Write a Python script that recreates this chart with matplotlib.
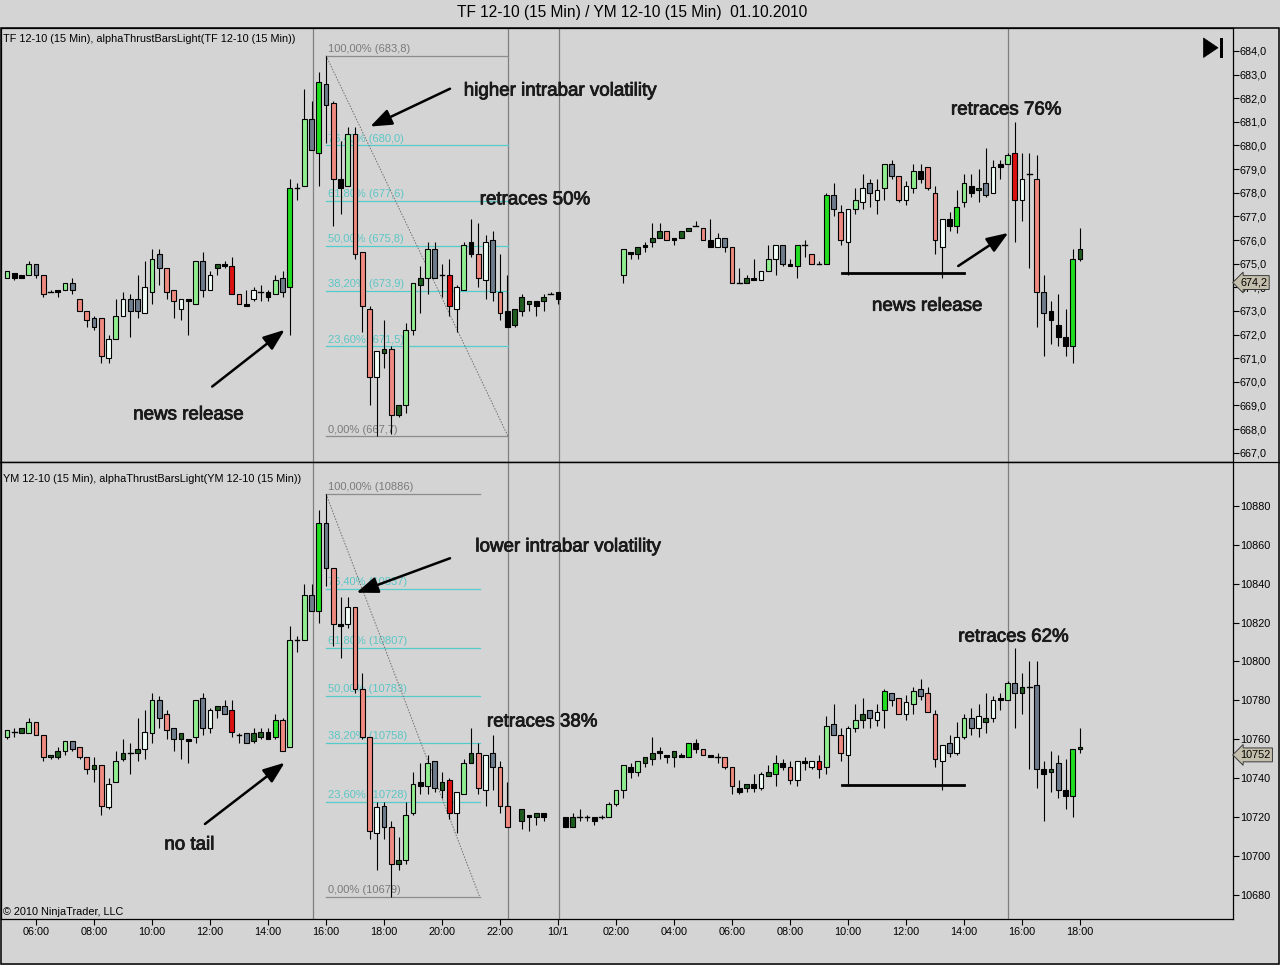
"""Recreate the NinjaTrader TF / YM 15-min chart of 01.10.2010 (two stacked candle panels)."""
import matplotlib

matplotlib.use("Agg")
import matplotlib.pyplot as plt
import matplotlib.patheffects as pe
from matplotlib.patches import Rectangle, Polygon
from matplotlib.lines import Line2D

plt.rcParams["font.family"] = ["Liberation Sans", "DejaVu Sans"]

# ---- data -------------------------------------------------------------------
# bar slot = number of 15-min bars after 06:00 on day 1 (gaps = no bar printed)
top_slots = list(range(-4, 73)) + list(range(81, 145))
bot_slots = list(range(-4, 66)) + [67, 68, 69, 70] + list(range(73, 145))

# TF 12-10
top_open = [
    674.4, 674.6, 674.5, 674.5, 675.0, 674.5, 673.8, 673.9, 673.9, 674.2,
    673.5, 673.0, 672.7, 672.7, 671.0, 671.8, 672.8, 673.5, 673.5, 672.9,
    673.8, 675.4, 674.8, 673.9, 673.1, 673.5, 673.3, 675.1, 673.9, 674.8,
    675.0, 674.9, 673.7, 673.3, 673.5, 673.8, 673.8, 673.7, 674.4, 674.0,
    678.2, 678.3, 681.1, 679.7, 682.6, 681.8, 678.6, 678.3, 680.5, 675.5,
    673.1, 670.2, 671.2, 671.4, 668.6, 669.0, 672.2, 674.1, 674.4, 675.6,
    674.5, 674.5, 673.1, 673.9, 675.9, 675.4, 674.3, 676.0, 673.8, 673.0,
    672.4, 673.0, 673.3, 673.4, 673.4, 673.7, 673.8,
    674.5, 675.5, 675.4, 675.8, 675.9, 676.1, 676.4, 676.1, 676.1, 676.4,
    676.6, 676.5, 676.0, 675.7, 676.1, 675.7, 674.2, 674.2, 674.4, 674.3,
    674.7, 675.2, 675.8, 675.0, 674.9, 675.8, 675.4, 675.0, 675.0, 677.9,
    677.2, 675.9, 677.3, 677.6, 678.4, 677.7, 678.2, 679.2, 678.7, 677.7,
    678.2,
    678.9, 679.1, 678.0, 675.7, 676.9, 676.6, 677.6, 678.3, 678.1, 678.4,
    678.0, 679.2, 679.2, 679.7, 677.7, 678.8, 678.6, 673.8, 673.0, 672.4,
    671.9, 671.5, 675.2,
]
top_high = [
    674.7, 674.6, 674.5, 675.1, 675.0, 674.5, 673.9, 673.9, 674.2, 674.4,
    673.5, 673.0, 672.8, 672.7, 672.0, 673.5, 673.8, 673.7, 674.5, 675.1,
    675.6, 675.6, 674.8, 673.9, 673.5, 673.5, 675.1, 675.5, 674.7, 675.0,
    675.1, 675.3, 673.7, 673.9, 674.0, 674.1, 673.9, 674.5, 674.7, 678.6,
    678.4, 682.4, 681.9, 683.1, 683.8, 681.9, 680.2, 680.8, 680.8, 675.5,
    673.2, 671.3, 672.6, 671.5, 669.0, 672.5, 674.2, 674.9, 675.9, 675.9,
    675.0, 675.2, 674.1, 675.9, 676.9, 676.7, 676.2, 676.4, 675.4, 674.5,
    673.1, 673.7, 673.4, 673.4, 673.7, 673.8, 673.8,
    675.6, 675.5, 675.7, 675.9, 676.7, 676.7, 676.4, 676.1, 676.4, 676.5,
    676.8, 676.5, 676.9, 676.3, 676.1, 675.7, 674.8, 674.5, 675.2, 674.7,
    675.8, 675.8, 675.8, 675.2, 675.8, 676.0, 675.4, 675.1, 678.0, 678.4,
    677.5, 677.3, 678.2, 678.8, 678.6, 678.6, 679.2, 679.4, 678.7, 678.5,
    679.2,
    679.2, 679.1, 678.3, 676.9, 677.2, 678.1, 678.8, 678.8, 679.0, 679.9,
    679.4, 679.4, 679.7, 681.0, 679.7, 679.7, 679.6, 674.5, 673.4, 673.7,
    673.1, 675.6, 676.5,
]
top_low = [
    674.4, 674.3, 674.4, 674.5, 674.4, 673.6, 673.8, 673.6, 673.9, 673.7,
    673.0, 672.3, 672.2, 670.8, 670.8, 671.8, 672.8, 671.9, 672.7, 672.9,
    673.3, 674.1, 673.5, 672.7, 672.6, 672.0, 673.3, 673.6, 673.9, 674.5,
    674.8, 673.7, 673.3, 673.2, 673.4, 673.4, 673.4, 673.7, 673.6, 672.0,
    677.7, 678.3, 679.8, 678.3, 680.1, 676.6, 677.1, 678.3, 675.2, 672.1,
    669.0, 667.7, 670.6, 667.8, 668.5, 668.7, 672.0, 672.9, 673.7, 674.4,
    673.6, 672.8, 672.1, 673.9, 675.3, 674.0, 673.5, 673.4, 672.6, 672.3,
    672.3, 672.8, 673.0, 672.8, 673.0, 673.7, 673.3,
    674.2, 675.2, 675.2, 675.5, 675.7, 676.1, 676.0, 675.8, 676.1, 676.4,
    676.6, 676.0, 675.7, 675.7, 675.5, 674.2, 674.2, 674.2, 674.3, 674.3,
    674.7, 674.5, 674.9, 674.9, 674.4, 675.3, 675.0, 675.0, 675.0, 677.0,
    675.8, 674.5, 677.1, 677.3, 677.4, 677.1, 677.7, 678.6, 677.6, 677.5,
    678.0,
    678.4, 678.1, 675.4, 674.4, 676.4, 676.3, 677.4, 677.8, 677.6, 677.8,
    678.0, 678.6, 679.2, 675.9, 676.8, 674.8, 672.3, 671.1, 671.6, 671.5,
    671.1, 670.8, 675.1,
]
top_close = [
    674.7, 674.4, 674.4, 675.0, 674.5, 673.7, 673.8, 673.8, 674.2, 673.9,
    673.0, 672.6, 672.3, 671.1, 671.8, 672.8, 673.5, 673.0, 673.0, 674.0,
    675.2, 674.8, 673.8, 673.4, 673.5, 673.4, 675.1, 673.9, 674.5, 675.0,
    674.9, 673.7, 673.3, 673.2, 673.9, 673.8, 673.6, 674.3, 673.8, 678.2,
    678.2, 681.1, 679.8, 682.7, 681.7, 678.6, 678.2, 680.5, 675.4, 673.2,
    670.2, 671.3, 671.4, 668.6, 669.0, 672.2, 674.2, 674.4, 675.6, 674.4,
    674.5, 673.2, 674.0, 675.8, 675.4, 674.4, 675.9, 673.8, 672.9, 672.3,
    673.1, 673.6, 673.4, 673.2, 673.6, 673.7, 673.5,
    675.6, 675.4, 675.7, 675.7, 676.1, 676.4, 676.0, 676.0, 676.4, 676.5,
    676.6, 676.0, 675.7, 676.1, 675.7, 674.2, 674.2, 674.4, 674.3, 674.7,
    675.2, 675.8, 675.0, 674.9, 675.8, 675.8, 675.0, 675.0, 677.9, 677.3,
    676.0, 677.3, 677.7, 678.2, 678.0, 678.1, 679.2, 678.7, 677.7, 678.3,
    678.9,
    678.6, 678.2, 676.0, 676.9, 676.6, 677.4, 678.4, 678.0, 678.2, 677.9,
    679.1, 679.1, 679.6, 677.7, 678.6, 678.8, 673.8, 672.9, 672.6, 671.9,
    671.5, 675.2, 675.6,
]
# alphaThrust colour code per bar: L light green, G green, D dark green, W white,
# S salmon, R red, Y slate grey, K black, X doji
top_codes = (
    "LKKLYSXKLY" "SSYSWLWYYW" "LYSSWKLYWD" "KRSKWXKLYG" "XLYGYSKLSS"
    "SWDSDLLDLY" "XRWLKSWYSK" "DDDKDXK"
    "LKDKDDSKDD" "XSKWYSXDKW" "LWYKGXSXGY" "SWLWYWLYSW" "L"
    "KSSWKGLKDY" "WKLRWXSYKK" "KGD"
)

# YM 12-10
bot_open = [
    10761, 10764, 10763, 10763, 10769, 10762, 10751, 10751, 10754, 10759,
    10756, 10751, 10745, 10747, 10725, 10738, 10750, 10753, 10753, 10755,
    10763, 10780, 10773, 10766, 10760, 10760, 10761, 10781, 10766, 10775,
    10777, 10775, 10762, 10763, 10759, 10761, 10764, 10761, 10770, 10756,
    10811, 10811, 10834, 10826, 10871, 10848, 10819, 10819, 10828, 10786,
    10761, 10712, 10726, 10715, 10696, 10698, 10722, 10738, 10736, 10749,
    10734, 10739, 10722, 10732, 10748, 10753, 10734, 10753, 10746, 10726,
    10718, 10721, 10720, 10722, 10720, 10715, 10720, 10720, 10720, 10720,
    10720, 10727, 10734,
    10746, 10743, 10748, 10750, 10754, 10752, 10751, 10752, 10751, 10758,
    10755, 10752, 10751, 10751, 10746, 10735, 10735, 10737, 10735, 10741,
    10742, 10748, 10746, 10739, 10749, 10746, 10749, 10746, 10768, 10762,
    10752, 10766, 10770, 10775, 10770, 10775, 10784, 10781, 10773, 10778,
    10786, 10784, 10773, 10749, 10758, 10753, 10761, 10771, 10766, 10769,
    10771, 10781, 10780, 10789, 10784, 10787, 10788, 10745, 10743, 10748,
    10734, 10731, 10755,
]
bot_high = [
    10765, 10766, 10766, 10771, 10769, 10762, 10752, 10756, 10759, 10759,
    10756, 10751, 10751, 10747, 10740, 10754, 10760, 10758, 10771, 10775,
    10784, 10782, 10775, 10766, 10763, 10760, 10780, 10784, 10776, 10777,
    10780, 10780, 10763, 10763, 10766, 10766, 10766, 10773, 10771, 10818,
    10813, 10840, 10840, 10878, 10886, 10848, 10833, 10833, 10828, 10794,
    10761, 10728, 10728, 10718, 10710, 10728, 10743, 10748, 10752, 10749,
    10743, 10740, 10733, 10750, 10766, 10758, 10752, 10762, 10749, 10738,
    10724, 10721, 10722, 10722, 10720, 10722, 10724, 10721, 10720, 10721,
    10728, 10734, 10747,
    10748, 10749, 10751, 10761, 10756, 10752, 10754, 10753, 10758, 10760,
    10755, 10752, 10753, 10751, 10746, 10739, 10737, 10742, 10743, 10747,
    10752, 10750, 10749, 10749, 10751, 10749, 10752, 10772, 10778, 10766,
    10767, 10778, 10781, 10775, 10778, 10786, 10784, 10781, 10783, 10787,
    10791, 10787, 10775, 10757, 10762, 10769, 10773, 10776, 10778, 10784,
    10782, 10784, 10790, 10807, 10794, 10800, 10800, 10749, 10754, 10752,
    10750, 10755, 10766,
]
bot_low = [
    10760, 10761, 10763, 10763, 10762, 10749, 10750, 10750, 10752, 10754,
    10750, 10742, 10738, 10721, 10724, 10738, 10749, 10742, 10749, 10750,
    10758, 10766, 10760, 10754, 10750, 10748, 10758, 10762, 10763, 10771,
    10773, 10761, 10758, 10758, 10758, 10760, 10760, 10760, 10754, 10756,
    10805, 10811, 10826, 10820, 10839, 10808, 10802, 10817, 10784, 10760,
    10709, 10693, 10709, 10679, 10693, 10696, 10721, 10732, 10732, 10733,
    10730, 10719, 10712, 10732, 10748, 10732, 10726, 10734, 10722, 10715,
    10714, 10713, 10716, 10718, 10715, 10715, 10718, 10718, 10716, 10719,
    10720, 10726, 10730,
    10740, 10741, 10746, 10747, 10750, 10748, 10746, 10751, 10751, 10753,
    10752, 10751, 10748, 10745, 10732, 10732, 10733, 10733, 10734, 10741,
    10736, 10744, 10737, 10736, 10744, 10745, 10740, 10742, 10762, 10749,
    10737, 10764, 10766, 10766, 10767, 10766, 10777, 10773, 10770, 10773,
    10780, 10774, 10746, 10734, 10751, 10752, 10760, 10762, 10761, 10763,
    10769, 10775, 10780, 10766, 10773, 10745, 10735, 10718, 10733, 10730,
    10724, 10720, 10753,
]
bot_close = [
    10765, 10764, 10766, 10769, 10762, 10751, 10752, 10754, 10759, 10755,
    10751, 10745, 10747, 10726, 10737, 10749, 10753, 10753, 10755, 10764,
    10780, 10771, 10765, 10760, 10763, 10759, 10780, 10766, 10775, 10777,
    10773, 10764, 10762, 10758, 10763, 10764, 10760, 10770, 10754, 10811,
    10811, 10834, 10826, 10871, 10848, 10819, 10818, 10828, 10786, 10761,
    10713, 10725, 10715, 10696, 10698, 10721, 10737, 10736, 10748, 10735,
    10738, 10722, 10733, 10748, 10753, 10735, 10752, 10746, 10726, 10715,
    10724, 10720, 10722, 10720, 10715, 10720, 10720, 10720, 10718, 10720,
    10727, 10734, 10747,
    10743, 10749, 10751, 10753, 10753, 10751, 10754, 10751, 10758, 10755,
    10752, 10751, 10751, 10746, 10736, 10733, 10737, 10735, 10742, 10743,
    10748, 10746, 10739, 10749, 10748, 10749, 10745, 10767, 10762, 10753,
    10766, 10770, 10773, 10771, 10774, 10785, 10780, 10773, 10779, 10785,
    10782, 10774, 10750, 10757, 10753, 10761, 10771, 10766, 10772, 10771,
    10780, 10780, 10789, 10784, 10787, 10787, 10745, 10742, 10745, 10734,
    10731, 10755, 10756,
]
bot_codes = (
    "LXDLSSDDLY" "SSDSWLDXDW" "LYSYDKLYWD" "YRXYDDKGSL" "XLYGYSKWSS"
    "SWYSDLLKLY" "DRWLDSWYSS" "DKDKKDXXKX" "LLL"
    "KLDDKKDKGK" "SKXSSKDKWD" "GKSWKWRLYS" "WLDYWGYSWL" "YSSWYWLYWD"
    "WKLYDXYKDY" "KGD"
)

# Fibonacci retracements drawn on the chart
fib_levels = [1.0, 0.764, 0.618, 0.5, 0.382, 0.236, 0.0]
fib_top_labels = ["100,00% (683,8)", "76,40% (680,0)", "61,80% (677,6)", "50,00% (675,8)",
                  "38,20% (673,9)", "23,60% (671,5)", "0,00% (667,7)"]
fib_bot_labels = ["100,00% (10886)", "76,40% (10837)", "61,80% (10807)", "50,00% (10783)",
                  "38,20% (10758)", "23,60% (10728)", "0,00% (10679)"]
fib_top_hi, fib_top_lo = 683.8, 667.7
fib_bot_hi, fib_bot_lo = 10886, 10679

x_tick_slots = list(range(0, 145, 8))
x_tick_labels = ["06:00", "08:00", "10:00", "12:00", "14:00", "16:00", "18:00", "20:00",
                 "22:00", "10/1", "02:00", "04:00", "06:00", "08:00", "10:00", "12:00",
                 "14:00", "16:00", "18:00"]
top_y_ticks = [667.0 + k for k in range(18)]
bot_y_ticks = [10680 + 20 * k for k in range(11)]

top_last, bot_last = 674.2, 10752
title = "TF 12-10 (15 Min) / YM 12-10 (15 Min)  01.10.2010"

# ---- style ------------------------------------------------------------------
BG = "#D4D4D4"
CANDLE_COLORS = {"L": "#90EE90", "G": "#22DD22", "D": "#1F5C1F", "W": "#F2FFF8",
                 "S": "#EE8A80", "R": "#DD1111", "Y": "#6F7C8C", "K": "#000000"}
BODY = 0.68
W, H = 1280, 965


def px_box(x0, y0, x1, y1):
    return [x0 / W, 1 - y1 / H, (x1 - x0) / W, (y1 - y0) / H]


def draw_candles(ax, slots, o, h, l, c, codes):
    ax.vlines(slots, l, h, color="black", lw=0.8, zorder=3)
    for x, op, cl, k in zip(slots, o, c, codes):
        if k == "X":
            ax.plot([x - BODY / 2, x + BODY / 2], [cl, cl], color="black", lw=1.0, zorder=4)
        else:
            ax.add_patch(Rectangle((x - BODY / 2, min(op, cl)), BODY, abs(cl - op),
                                   facecolor=CANDLE_COLORS[k], edgecolor="black",
                                   lw=0.8, zorder=4))


def draw_fib(ax, x0, x1, lo, hi, labels):
    for lvl, lab in zip(fib_levels, labels):
        y = lo + lvl * (hi - lo)
        edge = lvl in (0.0, 1.0)
        col = "#8C8C8C" if edge else "#55CCCC"
        ax.plot([x0, x1], [y, y], color=col, lw=0.9, zorder=1)
        ax.annotate(lab, (x0, y), xytext=(1.5, 1.2), textcoords="offset points",
                    fontsize=8, color="#7A7A7A" if edge else "#5CC6C6",
                    ha="left", va="bottom", zorder=1)
    ax.plot([x0, x1], [hi, lo], color="#6E6E6E", lw=0.7, ls=(0, (1.5, 1.5)), zorder=1)


def note(ax, x, y, s):
    ax.text(x, y, s, fontsize=13.5, color="#1A1A1A", ha="left", va="center", zorder=6,
            path_effects=[pe.withStroke(linewidth=0.6, foreground="#1A1A1A")])


def arrow(ax, tail, head):
    ax.annotate("", xy=head, xytext=tail, zorder=6,
                arrowprops=dict(arrowstyle="-|>,head_length=1.0,head_width=0.38",
                                mutation_scale=13, lw=1.8, color="black",
                                shrinkA=0, shrinkB=0))


def price_tag(ax, y, s):
    ax.annotate(s, xy=(1.0, y), xycoords=ax.get_yaxis_transform(), xytext=(5, 0),
                textcoords="offset points", ha="left", va="center", fontsize=7.8,
                bbox=dict(boxstyle="larrow,pad=0.18", fc="#C4BFAC", ec="#3A3A3A", lw=0.7),
                zorder=7, annotation_clip=False)


fig = plt.figure(figsize=(12.8, 9.65), dpi=100, facecolor=BG)
ax_top = fig.add_axes(px_box(1, 27.5, 1233.3, 461.5))
ax_bot = fig.add_axes(px_box(1, 461.5, 1233.3, 919))

for ax in (ax_top, ax_bot):
    ax.set_facecolor(BG)
    ax.set_xlim(-4.83, 165.14)
    for sp in ax.spines.values():
        sp.set_color("black")
        sp.set_linewidth(0.9)
    ax.yaxis.tick_right()
    ax.tick_params(axis="y", direction="out", length=4, width=0.8, labelsize=7.8,
                   pad=0.8, colors="black")
    for xv in [38.2, 65.1, 72.1, 134.1]:
        ax.axvline(xv, color="#7F7F7F", lw=0.9, zorder=1)

# top panel
ax_top.set_ylim(666.63, 684.99)
ax_top.set_yticks(top_y_ticks, [f"{v:.1f}".replace(".", ",") for v in top_y_ticks])
ax_top.set_xticks([])
draw_candles(ax_top, top_slots, top_open, top_high, top_low, top_close, top_codes)
draw_fib(ax_top, 40.0, 65.1, fib_top_lo, fib_top_hi, fib_top_labels)
ax_top.plot([111.2, 128.0], [674.6, 674.6], color="black", lw=2, zorder=5)
note(ax_top, 59.0, 682.3, "higher intrabar volatility")
note(ax_top, 61.2, 677.7, "retraces 50%")
note(ax_top, 13.4, 668.6, "news release")
note(ax_top, 126.2, 681.5, "retraces 76%")
note(ax_top, 115.3, 673.2, "news release")
arrow(ax_top, (57.1, 682.4), (46.1, 680.8))
arrow(ax_top, (24.3, 669.8), (34.3, 672.2))
arrow(ax_top, (127.2, 674.9), (134.1, 676.3))
price_tag(ax_top, top_last, "674,2")

# bottom panel
ax_bot.set_ylim(10667.7, 10902.7)
ax_bot.set_yticks(bot_y_ticks, [str(v) for v in bot_y_ticks])
ax_bot.set_xticks(x_tick_slots, x_tick_labels)
ax_bot.tick_params(axis="x", direction="out", length=4.5, width=0.8, labelsize=7.8, pad=1.5)
draw_candles(ax_bot, bot_slots, bot_open, bot_high, bot_low, bot_close, bot_codes)
draw_fib(ax_bot, 40.0, 61.2, fib_bot_lo, fib_bot_hi, fib_bot_labels)
ax_bot.plot([111.2, 128.0], [10736.5, 10736.5], color="black", lw=2, zorder=5)
note(ax_bot, 60.6, 10858.8, "lower intrabar volatility")
note(ax_bot, 62.2, 10768.9, "retraces 38%")
note(ax_bot, 17.7, 10705.7, "no tail")
note(ax_bot, 127.2, 10812.5, "retraces 62%")
arrow(ax_bot, (57.1, 10853.0), (44.2, 10835.3))
arrow(ax_bot, (23.3, 10716.5), (34.3, 10748.0))
price_tag(ax_bot, bot_last, "10752")

# texts and frame
fig.text(632 / W, 1 - 13 / H, title, ha="center", va="center", fontsize=11.2)
fig.text(3 / W, 1 - 38.5 / H, "TF 12-10 (15 Min), alphaThrustBarsLight(TF 12-10 (15 Min))",
         ha="left", va="center", fontsize=7.8)
fig.text(3 / W, 1 - 478.5 / H, "YM 12-10 (15 Min), alphaThrustBarsLight(YM 12-10 (15 Min))",
         ha="left", va="center", fontsize=7.8)
fig.text(3 / W, 1 - 912 / H, "\u00a9 2010 NinjaTrader, LLC", ha="left", va="center", fontsize=7.8)

fig.add_artist(Rectangle((0.5 / W, 1 - 963.5 / H), 1278.5 / W, 936 / H,
                         transform=fig.transFigure, fill=False, ec="black", lw=1.1))
fig.add_artist(Line2D([0, 1], [1 - 461.5 / H] * 2, transform=fig.transFigure,
                      color="black", lw=0.9))
# "scroll to end" glyph, top right
fig.add_artist(Polygon([(1203.5 / W, 1 - 38 / H), (1203.5 / W, 1 - 57.5 / H),
                        (1218 / W, 1 - 47.75 / H)], closed=True,
                       transform=fig.transFigure, fc="black", ec="black", lw=0.5))
fig.add_artist(Rectangle((1219.5 / W, 1 - 57.5 / H), 3.8 / W, 19.5 / H,
                         transform=fig.transFigure, fc="black", ec="none"))

fig.savefig("out.png", dpi=100, facecolor=BG)
